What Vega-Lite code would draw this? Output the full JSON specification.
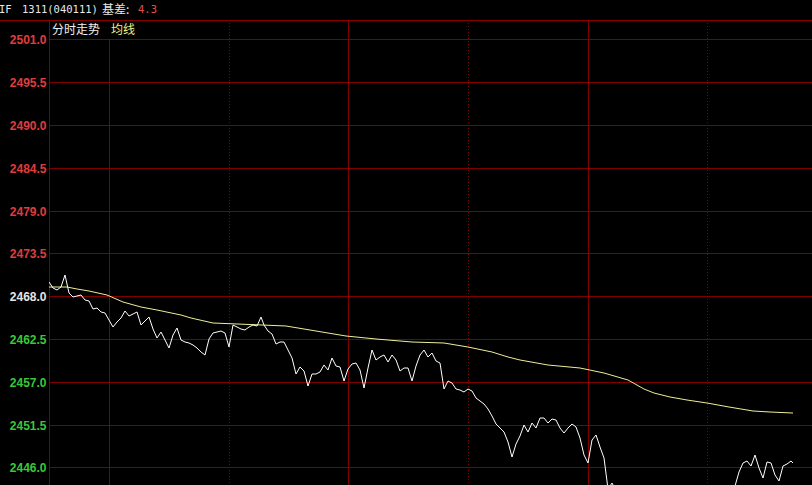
{
  "$schema": "https://vega.github.io/schema/vega-lite/v6.json",
  "width": 763,
  "height": 465,
  "autosize": {"type": "none"},
  "padding": {"left": 49, "top": 20, "right": 0, "bottom": 0},
  "background": "#000000",
  "config": {"view": {"stroke": null}},
  "datasets": {
    "price": [
      {"m":0,"p":2469.81},{"m":1,"p":2469.04},{"m":2,"p":2468.78},{"m":3,"p":2469.17},{"m":4,"p":2470.71},{"m":5,"p":2468.40},{"m":6,"p":2467.88},{"m":7,"p":2468.01},{"m":8,"p":2468.14},{"m":9,"p":2467.50},
      {"m":10,"p":2467.37},{"m":11,"p":2466.34},{"m":12,"p":2466.47},{"m":13,"p":2465.96},{"m":14,"p":2465.83},{"m":15,"p":2464.93},{"m":16,"p":2464.03},{"m":17,"p":2464.67},{"m":18,"p":2465.19},{"m":19,"p":2466.08},
      {"m":20,"p":2465.44},{"m":21,"p":2465.70},{"m":22,"p":2465.96},{"m":23,"p":2464.29},{"m":24,"p":2464.80},{"m":25,"p":2465.31},{"m":26,"p":2463.77},{"m":27,"p":2462.62},{"m":28,"p":2463.39},{"m":29,"p":2462.36},
      {"m":30,"p":2461.33},{"m":31,"p":2463.00},{"m":32,"p":2463.90},{"m":33,"p":2462.36},{"m":34,"p":2462.10},{"m":35,"p":2461.97},{"m":36,"p":2461.72},{"m":37,"p":2461.33},{"m":38,"p":2460.82},{"m":39,"p":2460.43},
      {"m":40,"p":2462.49},{"m":41,"p":2463.26},{"m":42,"p":2463.39},{"m":43,"p":2463.51},{"m":44,"p":2463.26},{"m":45,"p":2461.46},{"m":46,"p":2464.29},{"m":47,"p":2464.03},{"m":48,"p":2463.77},{"m":49,"p":2463.64},
      {"m":50,"p":2464.03},{"m":51,"p":2464.29},{"m":52,"p":2464.16},{"m":53,"p":2465.31},{"m":54,"p":2464.29},{"m":55,"p":2463.51},{"m":56,"p":2463.13},{"m":57,"p":2461.84},{"m":58,"p":2462.10},{"m":59,"p":2462.10},
      {"m":60,"p":2461.07},{"m":61,"p":2460.05},{"m":62,"p":2457.99},{"m":63,"p":2458.89},{"m":64,"p":2458.37},{"m":65,"p":2456.45},{"m":66,"p":2457.99},{"m":67,"p":2457.99},{"m":68,"p":2458.25},{"m":69,"p":2459.15},
      {"m":70,"p":2458.50},{"m":71,"p":2460.05},{"m":72,"p":2459.02},{"m":73,"p":2458.89},{"m":74,"p":2457.09},{"m":75,"p":2458.63},{"m":76,"p":2459.28},{"m":77,"p":2459.41},{"m":78,"p":2458.50},{"m":79,"p":2456.19},
      {"m":80,"p":2458.76},{"m":81,"p":2461.07},{"m":82,"p":2459.79},{"m":83,"p":2460.17},{"m":84,"p":2460.43},{"m":85,"p":2459.53},{"m":86,"p":2460.43},{"m":87,"p":2459.79},{"m":88,"p":2458.37},{"m":89,"p":2458.76},
      {"m":90,"p":2458.76},{"m":91,"p":2457.09},{"m":92,"p":2459.02},{"m":93,"p":2460.43},{"m":94,"p":2461.07},{"m":95,"p":2460.17},{"m":96,"p":2460.69},{"m":97,"p":2459.66},{"m":98,"p":2459.41},{"m":99,"p":2456.06},
      {"m":100,"p":2457.09},{"m":101,"p":2456.83},{"m":102,"p":2456.06},{"m":103,"p":2455.93},{"m":104,"p":2455.68},{"m":105,"p":2456.06},{"m":106,"p":2455.81},{"m":107,"p":2454.91},{"m":108,"p":2454.52},{"m":109,"p":2454.13},
      {"m":110,"p":2453.49},{"m":111,"p":2452.59},{"m":112,"p":2451.56},{"m":113,"p":2451.05},{"m":114,"p":2450.54},{"m":115,"p":2449.25},{"m":116,"p":2447.32},{"m":117,"p":2448.99},{"m":118,"p":2450.02},{"m":119,"p":2451.44},
      {"m":120,"p":2450.54},{"m":121,"p":2451.69},{"m":122,"p":2451.05},{"m":123,"p":2452.34},{"m":124,"p":2452.34},{"m":125,"p":2451.69},{"m":126,"p":2452.21},{"m":127,"p":2452.08},{"m":128,"p":2451.05},{"m":129,"p":2450.41},
      {"m":130,"p":2451.05},{"m":131,"p":2451.56},{"m":132,"p":2451.18},{"m":133,"p":2449.77},{"m":134,"p":2447.58},{"m":135,"p":2446.55},{"m":136,"p":2449.51},{"m":137,"p":2450.15},{"m":138,"p":2448.61},{"m":139,"p":2447.19},
      {"m":140,"p":2443.2},{"m":141,"p":2443.95},{"m":142,"p":2443.0},{"m":143,"p":2442.5},{"m":144,"p":2441.8},{"m":145,"p":2442.4},{"m":146,"p":2441.0},{"m":147,"p":2440.6},{"m":148,"p":2441.5},{"m":149,"p":2440.8},
      {"m":150,"p":2440.2},{"m":151,"p":2439.9},{"m":152,"p":2440.5},{"m":153,"p":2441.2},{"m":154,"p":2440.8},{"m":155,"p":2441.6},{"m":156,"p":2442.1},{"m":157,"p":2441.4},{"m":158,"p":2440.9},{"m":159,"p":2441.8},
      {"m":160,"p":2442.3},{"m":161,"p":2441.7},{"m":162,"p":2442.6},{"m":163,"p":2443.0},{"m":164,"p":2442.2},{"m":165,"p":2441.9},{"m":166,"p":2442.8},{"m":167,"p":2443.1},{"m":168,"p":2442.5},{"m":169,"p":2442.9},
      {"m":170,"p":2443.3},{"m":171,"p":2443.0},{"m":172,"p":2443.6},{"m":173,"p":2445.4},{"m":174,"p":2446.55},{"m":175,"p":2446.81},{"m":176,"p":2446.17},{"m":177,"p":2447.58},{"m":178,"p":2445.91},{"m":179,"p":2444.63},
      {"m":180,"p":2446.68},{"m":181,"p":2446.55},{"m":182,"p":2445.01},{"m":183,"p":2444.24},{"m":184,"p":2446.17},{"m":185,"p":2446.42},{"m":186,"p":2446.81},{"m":186.5,"p":2446.55}
    ],
    "avg": [
      {"m":0,"a":2469.17},{"m":4.5,"a":2469.17},{"m":7,"a":2468.91},{"m":10,"a":2468.66},{"m":14.5,"a":2468.14},{"m":18.5,"a":2467.24},{"m":23,"a":2466.60},{"m":27,"a":2466.21},{"m":33,"a":2465.57},{"m":35.5,"a":2465.18},
      {"m":41,"a":2464.54},{"m":47,"a":2464.41},{"m":53.5,"a":2464.29},{"m":59.5,"a":2464.16},{"m":65.5,"a":2463.64},{"m":74.5,"a":2462.87},{"m":82,"a":2462.49},{"m":91,"a":2462.10},{"m":99,"a":2461.97},{"m":105,"a":2461.46},
      {"m":111,"a":2460.82},{"m":115,"a":2460.17},{"m":118,"a":2459.79},{"m":125,"a":2459.15},{"m":133,"a":2458.76},{"m":139,"a":2458.11},{"m":145,"a":2457.22},{"m":149,"a":2456.06},{"m":151.5,"a":2455.55},{"m":155.5,"a":2455.03},
      {"m":160,"a":2454.65},{"m":165,"a":2454.26},{"m":170.5,"a":2453.75},{"m":176.5,"a":2453.24},{"m":180.7,"a":2453.11},{"m":186.5,"a":2452.98}
    ],
    "solidGrid": [{"m":0},{"m":75},{"m":135}],
    "dotGrid": [{"m":45},{"m":105},{"m":165}],
    "topGrid": [{"m":15}]
  },
  "layer": [
    {
      "data": {"name": "price"},
      "mark": {"type": "point", "opacity": 0},
      "encoding": {
        "x": {"field": "m", "type": "quantitative", "scale": {"domain": [0, 191.2], "nice": false, "zero": false, "round": true}, "axis": null},
        "y": {"field": "p", "type": "quantitative", "scale": {"domain": [2443.73, 2503.48], "nice": false, "zero": false, "round": true},
          "axis": {"title": null, "values": [2446, 2451.5, 2457, 2462.5, 2468, 2473.5, 2479, 2484.5, 2490, 2495.5, 2501],
            "format": ".1f", "grid": true, "gridColor": "#800000", "gridWidth": 1, "gridOpacity": 1,
            "ticks": false, "domain": false, "labelFontSize": 12, "labelFontWeight": "bold",
            "labelPadding": 3, "labelBaseline": "middle", "labelOpacity": 1,
            "labelColor": {"condition": [{"test": "datum.value > 2468.01", "value": "#e03c3c"}, {"test": "datum.value > 2467.99", "value": "#e6e6e6"}], "value": "#38c838"}}}
      }
    },
    {
      "data": {"name": "solidGrid"},
      "mark": {"type": "rule", "color": "#800000", "strokeWidth": 1, "xOffset": 0.5},
      "encoding": {"x": {"field": "m", "type": "quantitative"}}
    },
    {
      "data": {"name": "dotGrid"},
      "mark": {"type": "rule", "color": "#800000", "strokeWidth": 1, "strokeDash": [1, 2], "xOffset": 0.5},
      "encoding": {"x": {"field": "m", "type": "quantitative"}}
    },
    {
      "data": {"name": "topGrid"},
      "mark": {"type": "rule", "color": "#800000", "strokeWidth": 1, "xOffset": 0.5},
      "encoding": {"x": {"field": "m", "type": "quantitative"}, "y": {"datum": 2501}, "y2": {"datum": 2443.73}}
    },
    {
      "mark": {"type": "rule", "color": "#a00000", "strokeWidth": 2},
      "encoding": {"y": {"datum": 2468}}
    },
    {
      "data": {"values": [{"edge": "top"}]},
      "mark": {"type": "rule", "color": "#8a0000", "strokeWidth": 1, "clip": false},
      "encoding": {"y": {"value": 0.5}, "x": {"value": -49}, "x2": {"value": "width"}}
    },
    {
      "data": {"name": "avg"},
      "mark": {"type": "line", "color": "#eeee99", "strokeWidth": 1, "clip": true},
      "encoding": {"x": {"field": "m", "type": "quantitative"}, "y": {"field": "a", "type": "quantitative"}}
    },
    {
      "data": {"name": "price"},
      "mark": {"type": "line", "color": "#ffffff", "strokeWidth": 1, "clip": true},
      "encoding": {"x": {"field": "m", "type": "quantitative"}, "y": {"field": "p", "type": "quantitative"}}
    },
    {
      "data": {"values": [{"label": "IF"}]},
      "mark": {"type": "text", "align": "left", "baseline": "middle", "font": "DejaVu Sans Mono", "fontSize": 10.5, "color": "#e8e8e8"},
      "encoding": {"x": {"value": -50}, "y": {"value": -10}, "text": {"field": "label"}}
    },
    {
      "data": {"values": [{"label": "1311(040111)"}]},
      "mark": {"type": "text", "align": "left", "baseline": "middle", "font": "DejaVu Sans Mono", "fontSize": 10.5, "color": "#e8e8e8"},
      "encoding": {"x": {"value": -27}, "y": {"value": -10}, "text": {"field": "label"}}
    },
    {
      "data": {"values": [{"label": "基差:"}]},
      "mark": {"type": "text", "align": "left", "baseline": "middle", "font": "Noto Sans CJK SC", "fontSize": 12, "color": "#e8e8e8"},
      "encoding": {"x": {"value": 53}, "y": {"value": -10}, "text": {"field": "label"}}
    },
    {
      "data": {"values": [{"label": "4.3"}]},
      "mark": {"type": "text", "align": "left", "baseline": "middle", "font": "DejaVu Sans Mono", "fontSize": 10.5, "color": "#e05050"},
      "encoding": {"x": {"value": 89}, "y": {"value": -10}, "text": {"field": "label"}}
    },
    {
      "data": {"values": [{"label": "分时走势"}]},
      "mark": {"type": "text", "align": "left", "baseline": "middle", "font": "Noto Sans CJK SC", "fontSize": 12, "color": "#f0f0f0"},
      "encoding": {"x": {"value": 3}, "y": {"value": 10}, "text": {"field": "label"}}
    },
    {
      "data": {"values": [{"label": "均线"}]},
      "mark": {"type": "text", "align": "left", "baseline": "middle", "font": "Noto Sans CJK SC", "fontSize": 12, "color": "#f0f080"},
      "encoding": {"x": {"value": 62}, "y": {"value": 10}, "text": {"field": "label"}}
    }
  ]
}
